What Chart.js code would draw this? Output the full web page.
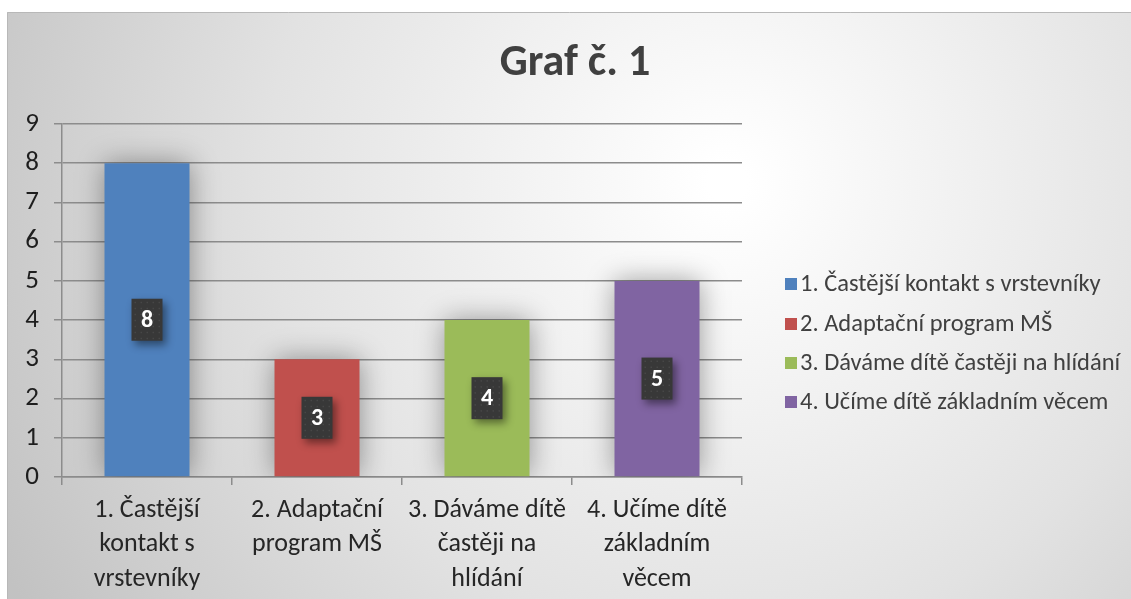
<!DOCTYPE html>
<html>
<head>
<meta charset="utf-8">
<script src="https://cdn.jsdelivr.net/npm/chart.js@4"></script>
<style>
  body { margin: 0; background: #fff; }
  #wrap { position: absolute; left: 7px; top: 12px; width: 1124px; height: 587px; }
</style>
</head>
<body>
<div id="wrap"><canvas id="graf"></canvas></div>
<script>
const categories = [
  ['1. Častější', 'kontakt s', 'vrstevníky'],
  ['2. Adaptační', 'program MŠ'],
  ['3. Dáváme dítě', 'častěji na', 'hlídání'],
  ['4. Učíme dítě', 'základním', 'věcem']
];
const legendNames = [
  '1. Častější kontakt s vrstevníky',
  '2. Adaptační program MŠ',
  '3. Dáváme dítě častěji na hlídání',
  '4. Učíme dítě základním věcem'
];
const values = [8, 3, 4, 5];
const barColors = ['#4f81bd', '#c0504d', '#9bbb59', '#8064a2'];
const yTicks = [0, 1, 2, 3, 4, 5, 6, 7, 8, 9];
const titleText = 'Graf č. 1';

const FONT = 'Carlito, Lato, "Liberation Sans", sans-serif';

// pozadí s přechodem a rámečkem, nadpis
const backgroundPlugin = {
  id: 'bg',
  beforeDraw(chart) {
    const ctx = chart.ctx;
    const w = chart.width, h = chart.height;
    ctx.save();
    const g = ctx.createRadialGradient(720, 170, 20, 720, 170, 820);
    g.addColorStop(0, '#ffffff');
    g.addColorStop(0.55, '#e2e2e2');
    g.addColorStop(1, '#c2c2c2');
    ctx.fillStyle = g;
    ctx.fillRect(0, 0, w, h);
    ctx.strokeStyle = '#b8b8b8';
    ctx.lineWidth = 1;
    ctx.beginPath();
    ctx.moveTo(0.5, h);
    ctx.lineTo(0.5, 0.5);
    ctx.lineTo(w, 0.5);
    ctx.stroke();

    ctx.fillStyle = '#404040';
    ctx.font = 'bold 44px ' + FONT;
    ctx.textAlign = 'center';
    ctx.textBaseline = 'middle';
    ctx.fillText(titleText, 568, 52);
    ctx.restore();
  }
};

// stín pod sloupci
const shadowPlugin = {
  id: 'barShadow',
  beforeDatasetsDraw(chart) {
    const ctx = chart.ctx;
    ctx.save();
    ctx.shadowColor = 'rgba(0,0,0,0.38)';
    ctx.shadowBlur = 26;
  },
  afterDatasetsDraw(chart) {
    chart.ctx.restore();
  }
};

// popisky hodnot v tmavých rámečcích
const valueLabels = {
  id: 'valueLabels',
  afterDatasetsDraw(chart) {
    const ctx = chart.ctx;
    const meta = chart.getDatasetMeta(0);
    meta.data.forEach((bar, i) => {
      const cx = bar.x;
      const cy = (bar.y + bar.base) / 2;
      const bw = 31, bh = 42;
      ctx.save();
      ctx.shadowColor = 'rgba(0,0,0,0.45)';
      ctx.shadowBlur = 8;
      ctx.shadowOffsetX = 3;
      ctx.shadowOffsetY = 4;
      ctx.fillStyle = '#383838';
      ctx.fillRect(cx - bw / 2, cy - bh / 2, bw, bh);
      ctx.restore();
      ctx.save();
      ctx.fillStyle = 'rgba(255,255,255,0.08)';
      for (let yy = cy - bh / 2 + 3; yy < cy + bh / 2; yy += 6) {
        for (let xx = cx - bw / 2 + 3; xx < cx + bw / 2; xx += 6) {
          ctx.fillRect(xx, yy, 1.5, 1.5);
        }
      }
      ctx.fillStyle = '#ffffff';
      ctx.font = 'bold 24px ' + FONT;
      ctx.textAlign = 'center';
      ctx.textBaseline = 'middle';
      ctx.fillText(String(values[i]), cx, cy + 1);
      ctx.restore();
    });
  }
};

// legenda vpravo
const sideLegend = {
  id: 'sideLegend',
  afterDraw(chart) {
    const ctx = chart.ctx;
    const rows = [272, 312, 351, 390];
    ctx.save();
    ctx.font = '24.5px ' + FONT;
    ctx.textBaseline = 'middle';
    ctx.textAlign = 'left';
    legendNames.forEach((name, i) => {
      ctx.fillStyle = barColors[i];
      ctx.fillRect(778, rows[i] - 6, 12, 12);
      ctx.fillStyle = '#404040';
      ctx.fillText(name, 793, rows[i] + 1);
    });
    ctx.restore();
  }
};

const chart = new Chart(document.getElementById('graf'), {
  type: 'bar',
  data: {
    labels: categories,
    datasets: [{
      data: values,
      backgroundColor: barColors,
      borderWidth: 0,
      categoryPercentage: 1,
      barPercentage: 0.5
    }]
  },
  options: {
    responsive: true,
    maintainAspectRatio: false,
    animation: false,
    layout: { padding: { left: 0, right: 389, top: 112, bottom: 0 } },
    plugins: {
      legend: { display: false },
      tooltip: { enabled: false },
      title: { display: false }
    },
    scales: {
      x: {
        afterFit(scale) { scale.height = 122; },
        grid: {
          offset: true,
          drawOnChartArea: false,
          drawTicks: true,
          tickLength: 8,
          color: '#8c8c8c',
          lineWidth: 1.5
        },
        border: { color: '#8c8c8c', width: 1.5 },
        ticks: {
          color: '#262626',
          padding: 8,
          maxRotation: 0,
          autoSkip: false,
          font: { family: FONT, size: 26, lineHeight: 1.33 }
        }
      },
      y: {
        min: 0,
        max: 9,
        afterFit(scale) { scale.width = 55; },
        afterBuildTicks(scale) { scale.ticks = yTicks.map(v => ({ value: v })); },
        grid: {
          color: '#8c8c8c',
          lineWidth: 1.5,
          tickLength: 8
        },
        border: { color: '#8c8c8c', width: 1.5 },
        ticks: {
          color: '#1e1e1e',
          padding: 15,
          autoSkip: false,
          font: { family: FONT, size: 27 }
        }
      }
    }
  },
  plugins: [backgroundPlugin, shadowPlugin, valueLabels, sideLegend]
});
</script>
</body>
</html>
